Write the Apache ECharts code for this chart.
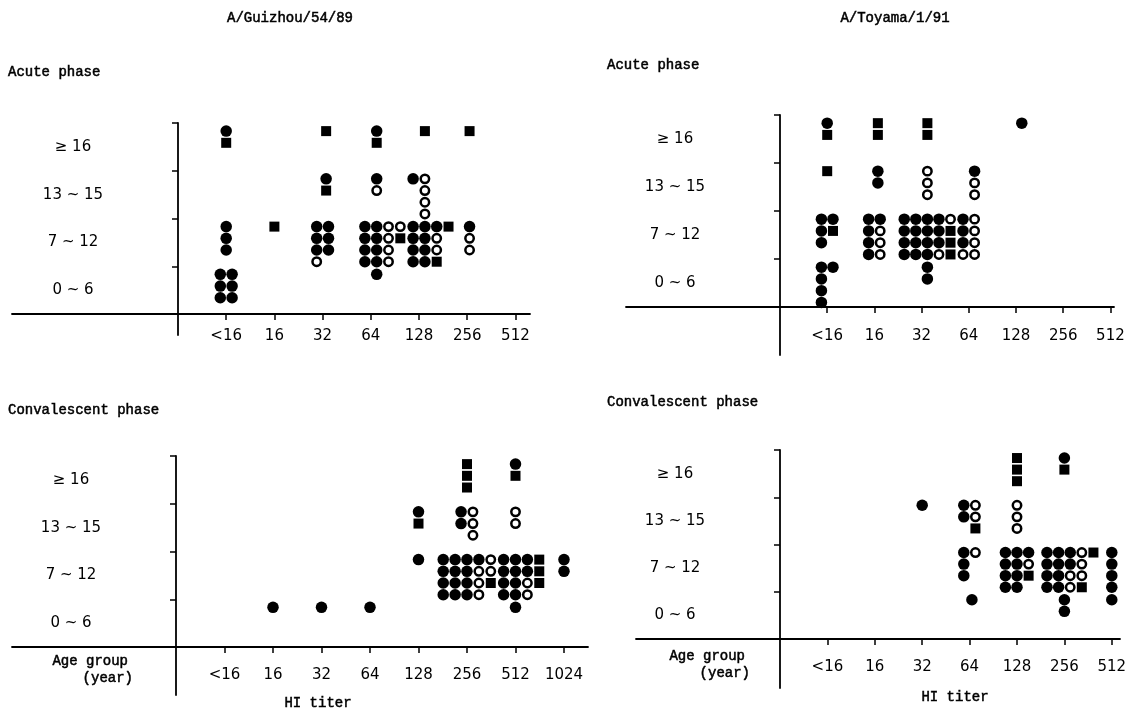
<!DOCTYPE html>
<html>
<head>
<meta charset="utf-8">
<script src="https://cdn.jsdelivr.net/npm/echarts@6/dist/echarts.min.js"></script>
<style>
  html, body { margin: 0; padding: 0; background: #fff; }
  #chart { width: 1140px; height: 718px; }
</style>
</head>
<body>
<div id="chart"></div>
<script>
// HI titer categories and age groups
const titers7 = ['<16', '16', '32', '64', '128', '256', '512'];
const titers8 = ['<16', '16', '32', '64', '128', '256', '512', '1024'];
const ageGroups = ['0 ~ 6', '7 ~ 12', '13 ~ 15', '≥ 16'];

// Each cell: [titer, age group index, lead (column slot of first column relative to the titer tick),
//             columns listed left to right, each read top to bottom]
// f = filled circle, o = open circle, s = filled square
const guizhouAcute = [
  ['<16', 3, 0, ['fs']],
  ['<16', 1, 0, ['fff']],
  ['<16', 0, -0.5, ['fff', 'fff']],
  ['16', 1, 0, ['s']],
  ['32', 3, 0.3, ['s']],
  ['32', 2, 0.3, ['fs']],
  ['32', 1, -0.5, ['fffo', 'fff']],
  ['64', 3, 0.5, ['fs']],
  ['64', 2, 0.5, ['fo']],
  ['64', 1, -0.5, ['ffff', 'ffff', 'oooo', 'os']],
  ['64', 0, 0.5, ['f']],
  ['128', 3, 0.5, ['s']],
  ['128', 2, -0.5, ['f', 'oooo']],
  ['128', 1, -0.5, ['ffff', 'ffff', 'foos', 's']],
  ['256', 3, 0.2, ['s']],
  ['256', 1, 0.2, ['foo']]
];

const toyamaAcute = [
  ['<16', 3, 0, ['fs']],
  ['<16', 2, 0, ['s']],
  ['<16', 1, -0.5, ['fff', 'fs']],
  ['<16', 0, -0.5, ['ffff', 'f']],
  ['16', 3, 0.3, ['ss']],
  ['16', 2, 0.3, ['ff']],
  ['16', 1, -0.5, ['ffff', 'fooo']],
  ['32', 3, 0.5, ['ss']],
  ['32', 2, 0.5, ['ooo']],
  ['32', 1, -1.5, ['ffff', 'ffff', 'ffff', 'fffo', 'osss']],
  ['32', 0, 0.5, ['ff']],
  ['64', 2, 0.5, ['foo']],
  ['64', 1, -0.5, ['fffo', 'oooo']],
  ['128', 3, 0.5, ['f']]
];

const guizhouConv = [
  ['16', 0, 0, ['f']],
  ['32', 0, 0, ['f']],
  ['64', 0, 0, ['f']],
  ['128', 2, 0, ['fs']],
  ['128', 1, 0, ['f']],
  ['256', 3, 0, ['sss']],
  ['256', 2, -0.5, ['ff', 'ooo']],
  ['256', 1, -2, ['ffff', 'ffff', 'ffff', 'fooo', 'oos']],
  ['512', 3, 0, ['fs']],
  ['512', 2, 0, ['oo']],
  ['512', 1, -1, ['ffff', 'ffff', 'ffoo', 'sss']],
  ['512', 0, 0, ['f']],
  ['1024', 1, 0, ['ff']]
];

const toyamaConv = [
  ['32', 2, 0, ['f']],
  ['64', 2, -0.5, ['ff', 'oos']],
  ['64', 1, -0.5, ['fff', 'o']],
  ['64', 0, 0.2, ['f']],
  ['128', 3, 0, ['sss']],
  ['128', 2, 0, ['ooo']],
  ['128', 1, -1, ['ffff', 'ffff', 'fos']],
  ['256', 3, 0, ['fs']],
  ['256', 1, -1.5, ['ffff', 'ffff', 'ffoo', 'ooos', 's']],
  ['256', 0, 0, ['ff']],
  ['512', 1, 0, ['ffff']],
  ['512', 0, 0, ['f']]
];

// Panel frames in pixels (axis origin, extent of the axis lines, titer tick spacing, label gap)
const panels = [
  { cells: guizhouAcute, titers: titers7, left: 12, right: 530, originX: 178, xUnit: 48.2, top: 123, originY: 314, bottom: 335, gap: 15 },
  { cells: toyamaAcute, titers: titers7, left: 626, right: 1114, originX: 780, xUnit: 47.2, top: 115, originY: 307, bottom: 355, gap: 22 },
  { cells: guizhouConv, titers: titers8, left: 12, right: 588, originX: 176, xUnit: 48.5, top: 456, originY: 647, bottom: 695, gap: 21 },
  { cells: toyamaConv, titers: titers7, left: 636, right: 1120, originX: 780, xUnit: 47.4, top: 450, originY: 639, bottom: 688, gap: 21 }
];

const COL = 0.245;   // column step inside a cluster, in titer units
const ROW0 = 0.17;   // first row below the top of an age band, in band units
const ROW = 0.245;   // row step, in band units

const LABEL_FONT = 'DejaVu Sans';
const TYPE_FONT = 'Liberation Mono';
const LINE = { color: '#000', width: 1.8 };

const grids = [], xAxes = [], yAxes = [], series = [];

panels.forEach((p, gi) => {
  const yUnit = (p.originY - p.top) / 4;
  grids.push({
    left: p.left, top: p.top, width: p.right - p.left, height: p.bottom - p.top,
    containLabel: false, outerBoundsMode: 'none'
  });
  const ticks = p.titers.map((_, i) => i + 1);
  // the axes cross at (0, 0); offsets move each axis from the grid edge to that origin
  xAxes.push({
    type: 'value', gridIndex: gi,
    min: -(p.originX - p.left) / p.xUnit,
    max: (p.right - p.originX) / p.xUnit,
    offset: -(p.bottom - p.originY),
    splitLine: { show: false },
    axisLine: { onZero: false, lineStyle: LINE },
    axisTick: { show: true, customValues: ticks, length: 6, lineStyle: { color: '#000', width: 1.5 } },
    axisLabel: {
      customValues: ticks, margin: p.gap, color: '#000', fontFamily: LABEL_FONT, fontSize: 15,
      formatter: v => p.titers[Math.round(v) - 1] || ''
    }
  });
  yAxes.push({
    type: 'value', gridIndex: gi,
    min: -(p.bottom - p.originY) / yUnit,
    max: 4,
    offset: -(p.originX - p.left),
    splitLine: { show: false },
    axisLine: { onZero: false, lineStyle: LINE },
    axisTick: { show: true, customValues: [1, 2, 3, 4], length: 6, lineStyle: { color: '#000', width: 1.5 } },
    axisLabel: {
      customValues: [0.5, 1.5, 2.5, 3.5], margin: 105, align: 'center', color: '#000',
      fontFamily: LABEL_FONT, fontSize: 15,
      formatter: v => ageGroups[Math.floor(v)] || ''
    }
  });

  const pts = { f: [], o: [], s: [] };
  p.cells.forEach(([titer, age, lead, cols]) => {
    const t = p.titers.indexOf(titer) + 1;
    cols.forEach((col, j) => {
      [...col].forEach((ch, i) => {
        if (!pts[ch]) return;
        pts[ch].push([t + (lead + j) * COL, age + 1 - ROW0 - i * ROW]);
      });
    });
  });
  const base = { type: 'scatter', xAxisIndex: gi, yAxisIndex: gi, silent: true, z: 3 };
  series.push(Object.assign({}, base, {
    data: pts.f, symbol: 'circle', symbolSize: 11.5, itemStyle: { color: '#000', opacity: 1 }
  }));
  series.push(Object.assign({}, base, {
    data: pts.o, symbol: 'circle', symbolSize: 8.4,
    itemStyle: { color: '#fff', borderColor: '#000', borderWidth: 2.5, opacity: 1 }
  }));
  series.push(Object.assign({}, base, {
    data: pts.s, symbol: 'rect', symbolSize: 10, itemStyle: { color: '#000', opacity: 1 }
  }));
});

// typewritten captions: regular weight with a hairline stroke for a darker typeface
function txt(text, x, y, align) {
  return {
    type: 'text', x: x, y: y, silent: true,
    style: {
      text: text, fill: '#000', stroke: '#000', lineWidth: 0.5,
      font: '14px "' + TYPE_FONT + '"', textAlign: align, textVerticalAlign: 'middle'
    }
  };
}

const graphics = [
  txt('A/Guizhou/54/89', 290, 18, 'center'),
  txt('A/Toyama/1/91', 895, 18, 'center'),
  txt('Acute phase', 8, 72, 'left'),
  txt('Acute phase', 607, 65, 'left'),
  txt('Convalescent phase', 8, 410, 'left'),
  txt('Convalescent phase', 607, 402, 'left'),
  txt('Age group', 128, 661, 'right'),
  txt('(year)', 133, 678, 'right'),
  txt('Age group', 745, 656, 'right'),
  txt('(year)', 750, 673, 'right'),
  txt('HI titer', 318, 703, 'center'),
  txt('HI titer', 955, 697, 'center')
];

const chart = echarts.init(document.getElementById('chart'), null, { renderer: 'canvas' });
chart.setOption({
  animation: false,
  backgroundColor: '#fff',
  grid: grids,
  xAxis: xAxes,
  yAxis: yAxes,
  series: series,
  graphic: graphics
});
</script>
</body>
</html>
